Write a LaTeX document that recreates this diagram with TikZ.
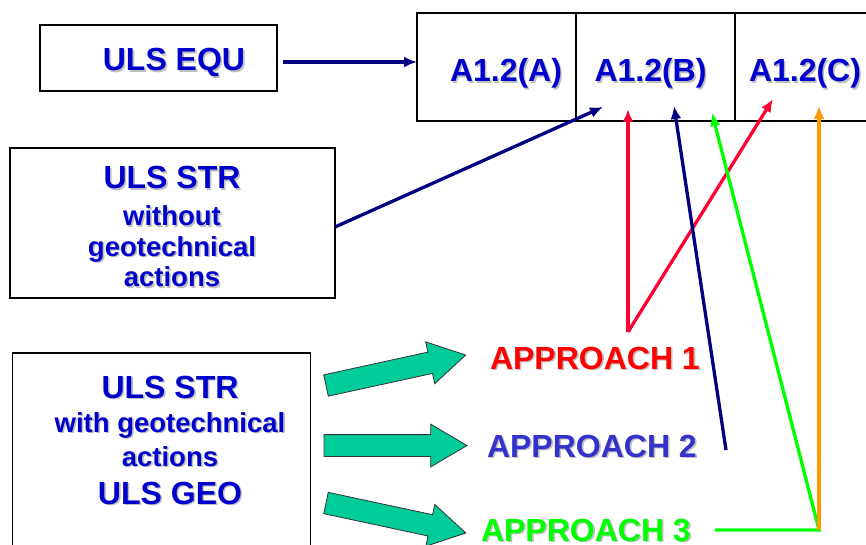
\documentclass[tikz,border=0pt]{standalone}
\usepackage{fontspec}
\setmainfont{Liberation Sans}
\usetikzlibrary{shapes}
\usetikzlibrary{arrows.meta}
\usetikzlibrary{positioning}

\definecolor{eqblue}{RGB}{0,0,204}
\definecolor{linknavy}{RGB}{0,0,128}
\definecolor{apred}{RGB}{255,0,0}
\definecolor{linkred}{RGB}{255,0,51}
\definecolor{apblue}{RGB}{51,51,204}
\definecolor{apgreen}{RGB}{0,255,0}
\definecolor{linkorange}{RGB}{255,153,0}
\definecolor{blockfill}{RGB}{0,204,153}

\newcommand{\shd}[1]{\leavevmode\rlap{\kern1.6pt\raisebox{-1.6pt}{\textcolor{black!25}{#1}}}#1}

\begin{document}
\begin{tikzpicture}[x=1pt, y=-1pt,
                every node/.style={outer sep=0pt},
                plainbox/.style={draw, line width=1.2pt, inner sep=0pt},
                cell/.style={plainbox, minimum width=159pt, minimum height=108pt},
                bigtext/.style={font=\fontsize{32}{36}\selectfont\bfseries, inner sep=0pt},
                smalltext/.style={font=\fontsize{27.5}{31}\selectfont\bfseries, align=center, inner sep=0pt},
                link/.style={line width=3.3pt, -{Latex[length=13pt, width=11pt]}},
                blockarrow/.style={single arrow, draw=black!80, line width=0.8pt, fill=blockfill,
                    minimum height=143pt, minimum width=42pt, single arrow head extend=10.5pt,
                    single arrow tip angle=61, single arrow head indent=0pt, inner xsep=0pt, inner ysep=10.5pt, anchor=tail}]
                \fill[white] (0,0) rectangle (866,545);
                \useasboundingbox (0,0) rectangle (866,545);
                \node[plainbox, minimum width=237pt, minimum height=66pt] (equ) at (158.5,58) {};
                \node[plainbox, minimum width=325pt, minimum height=150pt] (strwo) at (172.5,223) {};
                \node[plainbox, minimum width=298pt, minimum height=207pt] (strwith) at (161.5,456.5) {};
                \node[cell] (tabA) at (496.5,67) {};
                \node[cell, right=0pt of tabA] (tabB) {};
                \node[cell, right=0pt of tabB] (tabC) {};
                \node[bigtext, text=eqblue, anchor=base] (equtxt) at (174,71) {\shd{ULS EQU}};
                \node[bigtext, text=eqblue, anchor=base] (atxt) at (506,82) {\shd{A1.2(A)}};
                \node[bigtext, text=eqblue, anchor=base] (btxt) at (650.5,82) {\shd{A1.2(B)}};
                \node[bigtext, text=eqblue, anchor=base] (ctxt) at (805,82) {\shd{A1.2(C)}};
                \node[smalltext, text=eqblue, font=\fontsize{27.5}{30.5}\selectfont\bfseries] (strwotxt) at (172,227.5)
                    {{\fontsize{32}{36}\selectfont\shd{ULS STR}}\\[6.5pt]\shd{without}\\\shd{geotechnical}\\\shd{actions}};
                \node[smalltext, text=eqblue, font=\fontsize{27.5}{34}\selectfont\bfseries] (strwithtxt) at (170,441)
                    {{\fontsize{32}{36}\selectfont\shd{ULS STR}}\\\shd{with geotechnical}\\\shd{actions}\\[4pt]{\fontsize{32}{36}\selectfont\shd{ULS GEO}}};
                \node[bigtext, text=apred, anchor=base west] (ap1) at (490,369) {\shd{APPROACH 1}};
                \node[bigtext, text=apblue, anchor=base west] (ap2) at (487,457) {\shd{APPROACH 2}};
                \node[bigtext, text=apgreen, anchor=base west] (ap3) at (481,541) {\shd{APPROACH 3}};
                \node[blockarrow, rotate=12.3] (go1) at (326,385.5) {};
                \node[blockarrow] (go2) at (324,445.5) {};
                \node[blockarrow, rotate=-12.1] (go3) at (326,503) {};
                \coordinate (strend) at (603,107);
                \coordinate (apex1) at (628,332);
                \coordinate (tipR1) at (628,109);
                \coordinate (tipR2) at (773,99);
                \coordinate (end2) at (726,450);
                \coordinate (tipN2) at (674,106);
                \coordinate (start3) at (715,530);
                \coordinate (corner3) at (819,530);
                \coordinate (tipG3) at (712,113);
                \coordinate (tipO3) at (819,106);
                \draw[link, linknavy] ([xshift=6pt, yshift=-4pt]equ.east) -- ([yshift=5pt]tabA.west);
                \draw[link, linknavy] ([yshift=-4pt]strwo.east) -- (strend);
                \draw[link, linkred] (apex1) -- (tipR1);
                \draw[link, linkred] (apex1) -- (tipR2);
                \draw[link, linknavy] (end2) -- (tipN2);
                \draw[link, apgreen] (start3) -- (corner3) -- (tipG3);
                \draw[link, linkorange] (corner3) -- (tipO3);
            \end{tikzpicture}
\end{document}
